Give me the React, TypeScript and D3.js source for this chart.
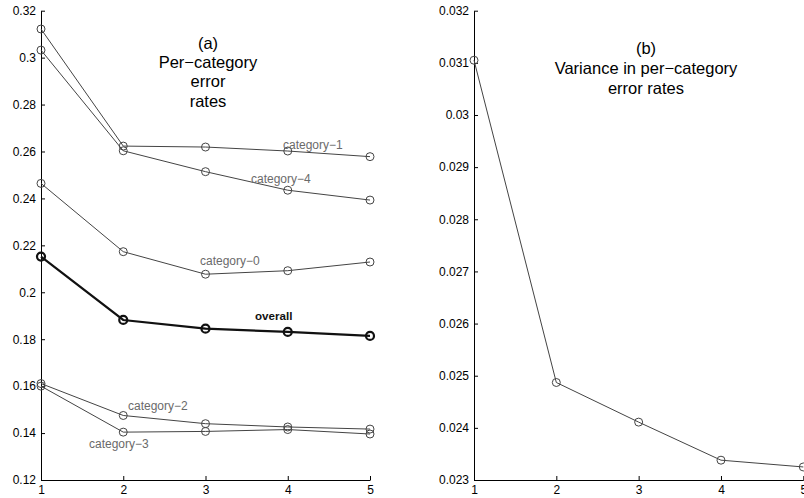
import { useEffect, useRef } from 'react';
import * as d3 from 'd3';

const steps = [1, 2, 3, 4, 5];
const cat0 = [0.2464, 0.2173, 0.2077, 0.2092, 0.2129];
const cat1 = [0.3122, 0.2623, 0.2619, 0.2602, 0.2578];
const cat2 = [0.1611, 0.1475, 0.144, 0.1426, 0.1417];
const cat3 = [0.16, 0.1404, 0.1407, 0.1415, 0.1396];
const cat4 = [0.3032, 0.2603, 0.2514, 0.2435, 0.2393];
const overall = [0.2152, 0.1882, 0.1845, 0.1831, 0.1814];
const variance = [0.03105, 0.02487, 0.02411, 0.02338, 0.02325];

const leftTicks = [0.12, 0.14, 0.16, 0.18, 0.2, 0.22, 0.24, 0.26, 0.28, 0.3, 0.32];
const rightTicks = [0.023, 0.024, 0.025, 0.026, 0.027, 0.028, 0.029, 0.03, 0.031, 0.032];

const FONT = 'Liberation Sans, Arial, sans-serif';
const MINUS = '\u2212';

function App() {
  const svgRef = useRef<SVGSVGElement>(null);

  useEffect(() => {
    const svg = d3.select(svgRef.current);
    svg.selectAll('*').remove();

    const drawPanel = (x0: number, x1: number, domain: [number, number], ticks: number[], fmt: (v: number) => string) => {
      const x = d3.scaleLinear().domain([1, 5]).range([x0, x1]);
      const y = d3.scaleLinear().domain(domain).range([480, 10.7]);
      const g = svg.append('g');

      // y axis, ticks pointing inward
      const ya = g.append('g').attr('transform', `translate(${x0},0)`)
        .call(d3.axisLeft(y).tickValues(ticks).tickSizeInner(-4).tickSizeOuter(0).tickPadding(5).tickFormat(d => fmt(+d)));
      ya.select('.domain').attr('stroke', '#000');
      ya.selectAll('line').attr('stroke', '#000');
      ya.selectAll('text').attr('font-family', FONT).attr('font-size', 12).attr('fill', '#000');

      const xa = g.append('g').attr('transform', `translate(0,480)`)
        .call(d3.axisBottom(x).tickValues(steps).tickSizeInner(-4).tickSizeOuter(0).tickPadding(5).tickFormat(d3.format('d')));
      xa.select('.domain').attr('stroke', '#000');
      xa.selectAll('line').attr('stroke', '#000');
      xa.selectAll('text').attr('font-family', FONT).attr('font-size', 12).attr('fill', '#000');
      return { g, x, y };
    };

    const series = (g: any, x: any, y: any, vals: number[], color: string, width: number) => {
      const line = d3.line<number>().x((_, i) => x(steps[i])).y(d => y(d));
      g.append('path').datum(vals).attr('d', line).attr('fill', 'none')
        .attr('stroke', color).attr('stroke-width', width);
      g.selectAll(null).data(vals).enter().append('circle')
        .attr('cx', (_: number, i: number) => x(steps[i])).attr('cy', (d: number) => y(d)).attr('r', 4)
        .attr('fill', 'none').attr('stroke', color).attr('stroke-width', width);
    };

    // matlab style: drop trailing zeros
    const trim = (s: string) => s.replace(/0+$/, '').replace(/\.$/, '');

    const left = drawPanel(41, 370, [0.12, 0.32], leftTicks, v => trim(d3.format('.2f')(v)));
    [cat1, cat4, cat0, cat2, cat3].forEach(v => series(left.g, left.x, left.y, v, '#444', 1));
    series(left.g, left.x, left.y, overall, '#111', 2.2);

    const labels = [
      { t: `category${MINUS}1`, x: 283, y: 149 },
      { t: `category${MINUS}4`, x: 251, y: 183 },
      { t: `category${MINUS}0`, x: 200, y: 265 },
      { t: `category${MINUS}2`, x: 128, y: 410 },
      { t: `category${MINUS}3`, x: 89, y: 448 },
    ];
    left.g.selectAll(null).data(labels).enter().append('text')
      .attr('x', (d: any) => d.x).attr('y', (d: any) => d.y).text((d: any) => d.t)
      .attr('font-family', FONT).attr('font-size', 12).attr('fill', '#6a6a6a');
    left.g.append('text').attr('x', 255).attr('y', 320).text('overall')
      .attr('font-family', FONT).attr('font-size', 11.6).attr('font-weight', 'bold').attr('fill', '#111');

    const titleA = ['(a)', `Per${MINUS}category`, 'error', 'rates'];
    left.g.selectAll(null).data(titleA).enter().append('text')
      .attr('x', 208).attr('y', (_: string, i: number) => 49 + i * 19.2).attr('text-anchor', 'middle')
      .text((d: string) => d).attr('font-family', FONT).attr('font-size', 16.5).attr('fill', '#000');

    const right = drawPanel(474, 803.3, [0.023, 0.032], rightTicks, v => trim(d3.format('.3f')(v)));
    series(right.g, right.x, right.y, variance, '#444', 1);

    const titleB = ['(b)', `Variance in per${MINUS}category`, 'error rates'];
    right.g.selectAll(null).data(titleB).enter().append('text')
      .attr('x', 646).attr('y', (_: string, i: number) => 54 + i * 20).attr('text-anchor', 'middle')
      .text((d: string) => d).attr('font-family', FONT).attr('font-size', 16.5).attr('fill', '#000');
  }, []);

  return (
    <svg ref={svgRef} width={804} height={498}
      style={{ position: 'absolute', left: 0, top: 0, background: '#fff' }} />
  );
}

export default App;
